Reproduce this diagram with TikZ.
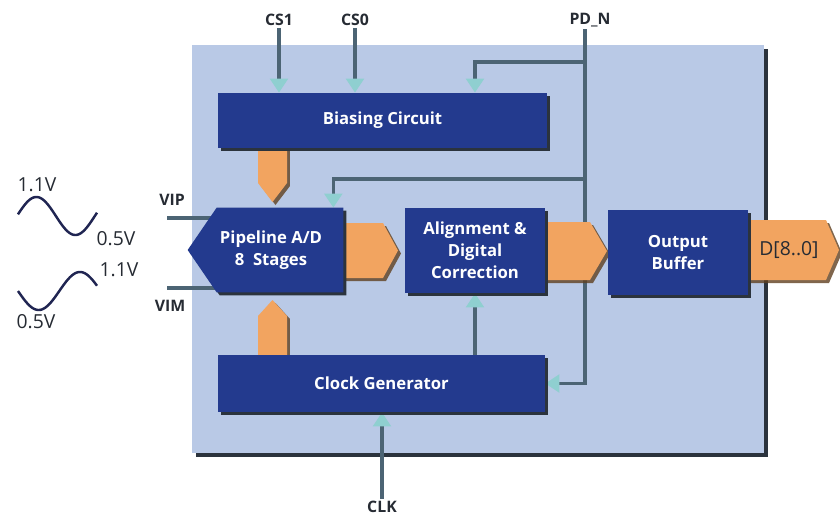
\documentclass[tikz,border=0pt]{standalone}
\usepackage{fontspec}
\setmainfont{Open Sans}
\usetikzlibrary{arrows.meta, shadows}
\definecolor{chipBlue}{HTML}{B9C9E6}
\definecolor{blockBlue}{HTML}{233A8E}
\definecolor{fatOrange}{HTML}{F2A460}
\definecolor{wireGray}{HTML}{4C6474}
\definecolor{tipTeal}{HTML}{8FCFD0}
\definecolor{shadeGray}{HTML}{2B333D}
\definecolor{inkGray}{HTML}{262B33}
\tikzstyle{myChip} = [rectangle, fill=chipBlue, inner sep=0pt, drop shadow={shadow xshift=0.08cm, shadow yshift=-0.08cm, fill=shadeGray, opacity=1}]
\tikzstyle{myBlock} = [rectangle, fill=blockBlue, text=white, align=center, inner sep=0pt, font=\bfseries\fontsize{9.5}{12.5}\selectfont, drop shadow={shadow xshift=0.06cm, shadow yshift=-0.06cm, fill=shadeGray, opacity=1}]
\tikzstyle{myText} = [text=white, align=center, inner sep=0pt, font=\bfseries\fontsize{9.5}{12.5}\selectfont]
\tikzstyle{myFat} = [fill=fatOrange, drop shadow={shadow xshift=0.06cm, shadow yshift=-0.06cm, fill=brown!50!black, opacity=.8}]
\tikzstyle{myPin} = [text=inkGray, font=\bfseries\fontsize{9}{10}\selectfont, inner sep=1pt]
\tikzstyle{myVolt} = [text=inkGray, font=\fontsize{11}{12}\selectfont, inner sep=0pt]
\tikzstyle{myWire} = [draw=wireGray, line width=2pt, -{Triangle[length=8pt, width=10pt, color=tipTeal]}]
\tikzstyle{myLine} = [draw=wireGray, line width=2pt]
\tikzstyle{myWave} = [draw=inkGray!85!blue, line width=1.4pt]
\pgfdeclarelayer{back}
\pgfdeclarelayer{wires}
\pgfsetlayers{back,wires,main}

\begin{document}
\begin{tikzpicture}[x=0.02cm, y=-0.02cm]
		\useasboundingbox (0,0) rectangle (840,514);
		\begin{pgfonlayer}{back}
		\node [myChip, minimum width=11.44cm, minimum height=8.16cm] (chip) at (478,249) {};
		\end{pgfonlayer}
		
		% orange buses
		\fill [myFat] (258,148) -- (287,148) -- (287,183) -- (272.5,202) -- (258,183) -- cycle;
		\fill [myFat] (258,355) -- (287,355) -- (287,316) -- (272.5,300) -- (258,316) -- cycle;
		\fill [myFat] (343,223) -- (383,223) -- (398,250.5) -- (383,278) -- (343,278) -- cycle;
		\fill [myFat] (545,222) -- (590,222) -- (607,251) -- (590,280) -- (545,280) -- cycle;
		\fill [myFat] (748,220) -- (826,220) -- (839,250) -- (826,280) -- (748,280) -- cycle;
		\node [text=inkGray, font=\fontsize{11}{12}\selectfont] (dout) at (789,250) {D[8..0]};
		
		% blocks
		\node [myBlock, minimum width=6.58cm, minimum height=1.1cm] (bias) at (382.5,120.5) {Biasing Circuit};
		\node [inner sep=0pt, minimum width=2.52cm, minimum height=1.68cm] (pipe) at (280,250) {};
		\fill [blockBlue, drop shadow={shadow xshift=0.06cm, shadow yshift=-0.06cm, fill=shadeGray, opacity=1}] (pipe.north west) -- (pipe.north east) -- (pipe.south east) -- (pipe.south west) -- ([xshift=-0.58cm]pipe.west) -- cycle;
		\node [myText] (pipeText) at ([xshift=-0.18cm]pipe.center) {Pipeline A/D\\8~~Stages};
		\node [myBlock, minimum width=2.8cm, minimum height=1.7cm] (align) at (475,250.5) {Alignment \&\\Digital\\Correction};
		\node [myBlock, minimum width=2.8cm, minimum height=1.7cm] (outbuf) at (678,252.5) {Output\\Buffer};
		\node [myBlock, minimum width=6.54cm, minimum height=1.14cm] (clock) at (381.5,383.5) {Clock Generator};
		
		% pins
		\node [myPin] (cs1) at (279,20) {CS1};
		\node [myPin] (cs0) at (355,20) {CS0};
		\node [myPin] (pdn) at (590,20) {PD\_N};
		\node [myPin] (vip) at (172,200) {VIP};
		\node [myPin] (vim) at (170,306) {VIM};
		\node [myPin] (clk) at (382,507) {CLK};
		\coordinate (pdn0) at ([xshift=-0.1cm]pdn.south);
		\coordinate (vipIn) at (167,218);
		\coordinate (vimIn) at (167,288);
		
		\begin{pgfonlayer}{wires}
		\draw [myWire] (cs1.south) -- (cs1.south |- bias.north);
		\draw [myWire] (cs0.south) -- (cs0.south |- bias.north);
		\draw [myWire] (pdn0) |- (clock.east);
		\draw [myWire] (pdn0 |- 0,62) -| ([xshift=1.85cm]bias.north);
		\draw [myWire] (pdn0 |- 0,179) -| ([xshift=-0.2cm]pipe.north east);
		\draw [myWire] (align.south |- clock.north) -- (align.south);
		\draw [myWire] (clk.north) -- (clk.north |- clock.south);
		\draw [myLine] (vipIn) -- (vipIn -| pipe.west);
		\draw [myLine] (vimIn) -- (vimIn -| pipe.west);
		\end{pgfonlayer}
		
		% input waves
		\draw [myWave] plot [domain=5:370, samples=80, smooth] ({18+(\x-5)/365*79},{216-19*sin(\x)});
		\draw [myWave] plot [domain=0:344, samples=80, smooth] ({18+\x*0.2296},{291+19*sin(\x)});
		\node [myVolt] (v1hi) at (37,185) {1.1V};
		\node [myVolt] (v1lo) at (116,239) {0.5V};
		\node [myVolt] (v2hi) at (119,270) {1.1V};
		\node [myVolt] (v2lo) at (36,322) {0.5V};
		
\end{tikzpicture}
\end{document}
